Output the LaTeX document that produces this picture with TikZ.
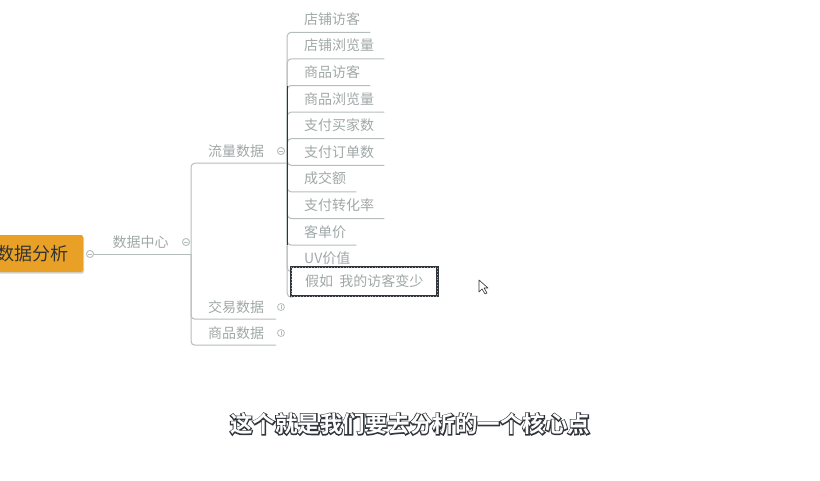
\documentclass[tikz,border=0pt]{standalone}
\usepackage{fontspec}
\usepackage{tikz}
\usetikzlibrary{positioning,shadows}
\setmainfont{Noto Sans CJK SC}
\newfontfamily\capbold{Noto Sans CJK SC Bold}
\newfontfamily\capedge{Noto Sans CJK SC Bold}[FakeBold=9]
\definecolor{txtgrey}{HTML}{A0A8A7}
\definecolor{linegrey}{HTML}{B5BDBB}
\definecolor{rootorange}{HTML}{E8A126}
\definecolor{seldark}{HTML}{30343B}
\newcommand{\captext}{这个就是我们要去分析的一个核心点}

\begin{document}
\begin{tikzpicture}[x=1pt,y=-1pt,
                    node distance=0pt,
                    topic/.style={font={\fontsize{14}{16}\selectfont},text=txtgrey,inner sep=0pt},
                    parent/.style={topic,minimum height=24pt},
                    leaf/.style={topic,minimum height=26.2pt,anchor=west},
                    branch/.style={draw=linegrey,line width=1pt,rounded corners=4pt},
                    toggle/.style={circle,draw=linegrey,fill=white,line width=.8pt,minimum size=7pt,inner sep=0pt},
                    togminus/.style={toggle,path picture={\draw[linegrey,line width=.7pt] ([xshift=1.5pt]path picture bounding box.west) -- ([xshift=-1.5pt]path picture bounding box.east);}},
                    togplus/.style={togminus,path picture={\draw[linegrey,line width=.7pt] ([yshift=1.5pt]path picture bounding box.south) -- ([yshift=-1.5pt]path picture bounding box.north);}},
                    selbox/.style={leaf,draw=seldark,fill=white,line width=2.4pt,inner xsep=14pt,minimum height=29pt,
                                   postaction={draw=white!55!seldark,line width=.3pt,dash pattern=on .4pt off 2.5pt}}]
    \useasboundingbox (0,0) rectangle (820,480);
    % root and first level
    \node[fill=rootorange,rounded corners=2pt,minimum width=100pt,minimum height=37pt,inner sep=0pt,
          drop shadow={shadow xshift=1pt,shadow yshift=-1.5pt,fill=black!25,opacity=.7},
          font={\fontsize{18}{20}\selectfont},text={black!80}] (root) at (33,253.5) {数据分析};
    \node[togminus] (roottog) at (90,254) {};
    \node[parent] (center) at (140.5,242) {数据中心};
    \node[togminus] (centertog) at (186,242) {};
    \coordinate (hub) at (191,254);
    % second level
    \node[parent] (flow) at (236,151) {流量数据};
    \node[togminus] (flowtog) at (281,151) {};
    \node[parent] (trade) at (236,307) {交易数据};
    \node[togplus] (tradetog) at (281,307) {};
    \node[parent] (goods) at (236,333) {商品数据};
    \node[togplus] (goodstog) at (281,333) {};
    \coordinate (flowjoin) at ([xshift=23pt]flow.south east);
    % leaves of flow
    \node[leaf] (l1) at (304,19) {店铺访客};
    \node[leaf] (l2) [below=of l1.south west,anchor=north west] {店铺浏览量};
    \node[leaf] (l3) [below=of l2.south west,anchor=north west] {商品访客};
    \node[leaf] (l4) [below=of l3.south west,anchor=north west] {商品浏览量};
    \node[leaf] (l5) [below=of l4.south west,anchor=north west] {支付买家数};
    \node[leaf] (l6) [below=of l5.south west,anchor=north west] {支付订单数};
    \node[leaf] (l7) [below=of l6.south west,anchor=north west] {成交额};
    \node[leaf] (l8) [below=of l7.south west,anchor=north west] {支付转化率};
    \node[leaf] (l9) [below=of l8.south west,anchor=north west] {客单价};
    \node[leaf] (l10) [below=of l9.south west,anchor=north west] {UV价值};
    \node[selbox] (l11) at (290,281.5) {假如\ \ 我的访客变少};
    % connectors
    \draw[branch] (roottog) -- (hub);
    \draw[branch] (hub) |- (flowjoin);
    \draw[branch] (hub) |- ([xshift=12pt]trade.south east);
    \draw[branch] (hub) |- ([xshift=12pt]goods.south east);
    \draw[branch] (flowjoin) |- ([xshift=10pt]l1.south east);
    \draw[branch] (flowjoin) |- ([xshift=10pt]l2.south east);
    \draw[branch] (flowjoin) |- ([xshift=10pt]l3.south east);
    \draw[branch] (flowjoin) |- ([xshift=10pt]l4.south east);
    \draw[branch] (flowjoin) |- ([xshift=10pt]l5.south east);
    \draw[branch] (flowjoin) |- ([xshift=10pt]l6.south east);
    \draw[branch] (flowjoin) |- ([xshift=10pt]l7.south east);
    \draw[branch] (flowjoin) |- ([xshift=10pt]l8.south east);
    \draw[branch] (flowjoin) |- ([xshift=10pt]l9.south east);
    \draw[branch] (flowjoin) |- ([xshift=10pt]l10.south east);
    \draw[branch] (flowjoin) |- (l11.south west);
    \draw[seldark,line width=1.3pt] (flowjoin |- l3.south) -- (flowjoin |- l9.south);
    % redraw toggles and box over the lines
    \node[togminus] at (roottog) {};
    \node[togminus] at (centertog) {};
    \node[togminus] at (flowtog) {};
    \node[selbox] at (290,281.5) {假如\ \ 我的访客变少};
    % mouse pointer
    \draw[seldark,fill=white,line width=.6pt,line join=round] (479,280) -- (479,292) -- (482,289) -- (485,294) -- (487,293) -- (484,288) -- (488,288) -- cycle;
    % caption
    \node (caption) at (410,424) {\fontsize{22.5}{25}\selectfont\rlap{\color{seldark}\capedge\captext}\color{white}\capbold\captext};
  \end{tikzpicture}
\end{document}
